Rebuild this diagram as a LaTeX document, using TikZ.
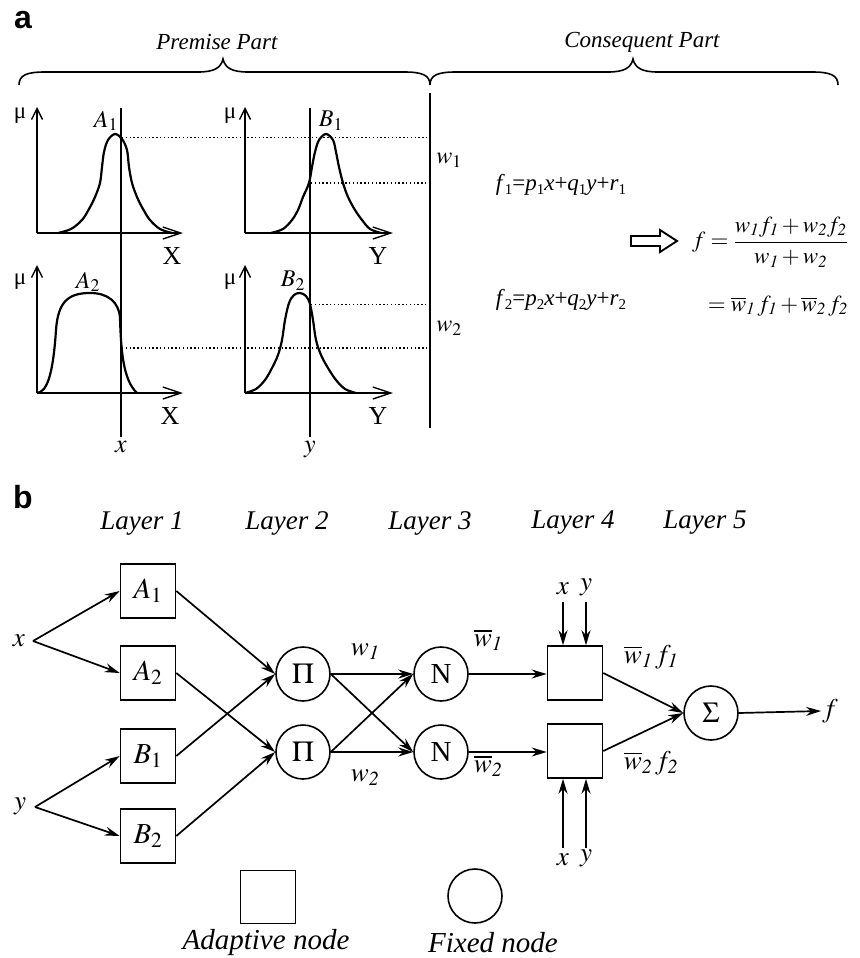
\documentclass[tikz,border=0pt]{standalone}
\usepackage{mathptmx}
\usepackage[no-math]{fontspec}
\setmainfont{Liberation Serif}
\newfontfamily\panelfont{Liberation Sans}
\usetikzlibrary{arrows.meta,calc}
\newcommand\lsub[1]{\raisebox{-0.18em}{\fontsize{15}{15}\selectfont #1}}
\begin{document}
\begin{tikzpicture}[x=1pt,y=-1pt,
  every node/.style={inner sep=1pt},
  panel/.style={font=\panelfont\bfseries\fontsize{32}{34}\selectfont},
  parttitle/.style={font=\itshape\fontsize{23}{26}\selectfont},
  layertitle/.style={font=\itshape\fontsize{27}{30}\selectfont},
  legendtext/.style={font=\itshape\fontsize{29}{32}\selectfont},
  glabel/.style={font=\fontsize{24}{26}\selectfont},
  inlabel/.style={font=\fontsize{26}{28}\selectfont},
  axlabel/.style={font=\fontsize{26}{28}\selectfont},
  mu/.style={font=\fontsize{23}{25}\selectfont},
  formula/.style={font=\fontsize{23}{26}\selectfont},
  bigformula/.style={font=\fontsize{23}{26}\selectfont},
  nodelabel/.style={font=\fontsize{29}{32}\selectfont},
  netlabel/.style={font=\fontsize{27}{30}\selectfont},
  bracepath/.style={line width=1.6pt},
  sepline/.style={line width=1.9pt},
  axisline/.style={line width=1.4pt},
  axy/.style={axisline,-{Straight Barb[length=11pt,width=11pt]}},
  axx/.style={axisline,-{Straight Barb[length=18pt,width=12pt]}},
  curve/.style={line width=2.2pt},
  dotline/.style={line width=1.4pt,dash pattern=on 1.4pt off 2.4pt},
  netline/.style={line width=1.7pt},
  arr/.style={netline,-{Stealth[length=15pt,width=9pt,inset=5pt]}},
  adapt/.style={draw,line width=1.6pt,minimum width=55pt,minimum height=54pt,inner sep=0pt},
  fixed/.style={draw,circle,line width=1.6pt,minimum size=54pt,inner sep=0pt}
]
\useasboundingbox (0,0) rectangle (859,958);

% ---------------- panel a ----------------
\node[panel] (pa) at (23,20) {a};
\node[parttitle] (premise) at (217,42) {Premise Part};
\node[parttitle] (conseq) at (642,42) {Consequent Part};

\draw[bracepath] (19,85) .. controls (19,75) and (27,72) .. (45,72) -- (198,72)
  .. controls (214,72) and (221,68) .. (223,59) .. controls (225,68) and (232,72) .. (248,72)
  -- (404,72) .. controls (422,72) and (430,75) .. (430,85);
\draw[bracepath] (430,85) .. controls (430,75) and (438,72) .. (456,72) -- (608,72)
  .. controls (624,72) and (631,68) .. (633,59) .. controls (635,68) and (642,72) .. (658,72)
  -- (812,72) .. controls (830,72) and (838,75) .. (838,85);

\draw[sepline] (430,93) -- (430,428);

% axes
\draw[axy] (37,233) -- (37,107);
\draw[axx] (37,233) -- (183,233);
\draw[axy] (245,233) -- (245,107);
\draw[axx] (245,233) -- (393,233);
\draw[axy] (37,393) -- (37,265);
\draw[axx] (37,393) -- (183,393);
\draw[axy] (245,393) -- (245,265);
\draw[axx] (245,393) -- (393,393);

\node[mu] (mu1) at (20,116) {μ};
\node[mu] (mu2) at (230,116) {μ};
\node[mu] (mu3) at (20,282) {μ};
\node[mu] (mu4) at (230,282) {μ};
\node[axlabel] (X1) at (172,256) {X};
\node[axlabel] (Y1) at (378,256) {Y};
\node[axlabel] (X2) at (170,416) {X};
\node[axlabel] (Y2) at (378,416) {Y};

% membership curves
\draw[curve] plot[smooth,tension=0.55] coordinates {(58,233) (71,229) (82,220) (89,209) (95,197)
  (100,183) (102,167) (104,152) (108,140) (115,134) (122,139) (127,150) (129,167) (132,183)
  (137,197) (143,209) (150,220) (160,229) (172,233)};
\draw[curve] plot[smooth,tension=0.55] coordinates {(271,233) (283,229) (292,220) (298,210)
  (303,197) (309,183) (312,167) (315,152) (319,140) (326,134) (333,140) (336,152) (339,167)
  (343,183) (348,197) (355,210) (362,220) (370,229) (381,233)};
\draw[curve] (37,393) .. controls (47,392) and (53,375) .. (56,330)
  .. controls (58,302) and (68,293) .. (90,293)
  .. controls (108,293) and (119,302) .. (120,318)
  .. controls (121,350) and (123,380) .. (137,393);
\draw[curve] plot[smooth,tension=0.55] coordinates {(245,393) (256,389) (265,380) (272,368)
  (278,355) (282,340) (285,320) (289,303) (294,295) (300,293) (306,296) (310,304) (313,320)
  (316,340) (321,355) (328,368) (336,380) (345,389) (356,393)};

\node[glabel] (A1l) at (106,121) {$A_1$};
\node[glabel] (B1l) at (331,121) {$B_1$};
\node[glabel] (A2l) at (88,282) {$A_2$};
\node[glabel] (B2l) at (293,281) {$B_2$};

% input lines
\draw[sepline] (121,108) -- (121,437);
\draw[sepline] (310,108) -- (310,437);
\node[inlabel] (xin) at (121,447) {$x$};
\node[inlabel] (yin) at (310,449) {$y$};

% dotted lines
\draw[dotline] (122,137.5) -- (429,137.5);
\draw[dotline] (311,183) -- (429,183);
\draw[dotline] (311,304.5) -- (429,304.5);
\draw[dotline] (122,348) -- (429,348);

\node[glabel] (w1a) at (449,160) {$w_1$};
\node[glabel] (w2a) at (449,328) {$w_2$};

% consequent
\node[formula] (f1) at (561,185)
  {\textit{f}\lsub{1}=\textit{p}\lsub{1}\textit{x}+\textit{q}\lsub{1}\textit{y}+\textit{r}\lsub{1}};
\node[formula] (f2) at (561,300)
  {\textit{f}\lsub{2}=\textit{p}\lsub{2}\textit{x}+\textit{q}\lsub{2}\textit{y}+\textit{r}\lsub{2}};
\draw[line width=1.9pt,line join=miter] (631,236) -- (660,236) -- (660,230) -- (677,241)
  -- (660,252) -- (660,246) -- (631,246) -- cycle;
\node[bigformula,anchor=east] (fres) at (849,242)
  {$\displaystyle f=\frac{w_{\mathit{1}}f_{\mathit{1}}+w_{\mathit{2}}f_{\mathit{2}}}{w_{\mathit{1}}+w_{\mathit{2}}}$};
\node[bigformula,anchor=east] (fres2) at (849,306)
  {$=\overline{w}_{\mathit{1}}\,f_{\mathit{1}}+\overline{w}_{\mathit{2}}\,f_{\mathit{2}}$};

% ---------------- panel b ----------------
\node[panel] (pb) at (23,497) {b};
\node[layertitle] (lay1) at (142,523) {Layer 1};
\node[layertitle] (lay2) at (287,523) {Layer 2};
\node[layertitle] (lay3) at (430,523) {Layer 3};
\node[layertitle] (lay4) at (573,523) {Layer 4};
\node[layertitle] (lay5) at (705,523) {Layer 5};

\node[netlabel] (xn) at (19,641) {$x$};
\node[netlabel] (yn) at (20,806) {$y$};
\coordinate (xb) at (33,641);
\coordinate (yb) at (35,807);

\node[adapt,nodelabel] (A1) at (148,591) {$A_1$};
\node[adapt,nodelabel] (A2) at (148,673) {$A_2$};
\node[adapt,nodelabel] (B1) at (148,756) {$B_1$};
\node[adapt,nodelabel] (B2) at (148,836) {$B_2$};

\node[fixed,nodelabel] (P1) at (303,674) {$\Pi$};
\node[fixed,nodelabel] (P2) at (303,752) {$\Pi$};
\node[fixed,nodelabel] (N1) at (441,674) {N};
\node[fixed,nodelabel] (N2) at (441,752) {N};
\node[adapt] (L1) at (575,673) {};
\node[adapt] (L2) at (575,751) {};
\node[fixed,nodelabel] (S) at (711,713) {$\Sigma$};
\node[netlabel] (fout) at (830,711) {$f$};

\draw[arr] (xb) -- (A1.west);
\draw[arr] (xb) -- (A2.west);
\draw[arr] (yb) -- (B1.west);
\draw[arr] (yb) -- (B2.west);
\draw[arr] (A1.east) -- (P1.west);
\draw[arr] (B1.east) -- (P1.west);
\draw[arr] (A2.east) -- (P2.west);
\draw[arr] (B2.east) -- (P2.west);
\draw[arr] (P1.east) -- (N1.west);
\draw[arr] (P1.east) -- (N2.west);
\draw[arr] (P2.east) -- (N1.west);
\draw[arr] (P2.east) -- (N2.west);
\draw[arr] (N1.east) -- (N1.east -| L1.west);
\draw[arr] (N2.east) -- (N2.east -| L2.west);
\draw[arr] (L1.east) -- (S.west);
\draw[arr] (L2.east) -- (S.west);
\draw[arr] (S.east) -- (fout.west);

\node[netlabel] (xt) at (563,589) {$x$};
\node[netlabel] (yt) at (586,587) {$y$};
\node[netlabel] (xbt) at (563,860) {$x$};
\node[netlabel] (ybt) at (586,858) {$y$};
\coordinate (xts) at (563,602);
\coordinate (yts) at (586,602);
\coordinate (xbs) at (563,848);
\coordinate (ybs) at (586,848);
\draw[arr] (xts) -- (xts |- L1.north);
\draw[arr] (yts) -- (yts |- L1.north);
\draw[arr] (xbs) -- (xbs |- L2.south);
\draw[arr] (ybs) -- (ybs |- L2.south);

\node[netlabel] (w1b) at (365,652) {$w_{\mathit{1}}$};
\node[netlabel] (w2b) at (365,778) {$w_{\mathit{2}}$};
\node[netlabel] (wb1) at (488,640) {$\overline{w}_{\mathit{1}}$};
\node[netlabel] (wb2) at (488,766) {$\overline{w}_{\mathit{2}}$};
\node[netlabel] (o1) at (651,657) {$\overline{w}_{\mathit{1}}\,f_{\mathit{1}}$};
\node[netlabel] (o2) at (651,763) {$\overline{w}_{\mathit{2}}\,f_{\mathit{2}}$};

% legend
\node[adapt,minimum height=53pt] (legA) at (268,897) {};
\node[fixed] (legF) at (475,896) {};
\node[legendtext] (legAt) at (266,943) {Adaptive node};
\node[legendtext] (legFt) at (493,943) {Fixed node};
\end{tikzpicture}
\end{document}
